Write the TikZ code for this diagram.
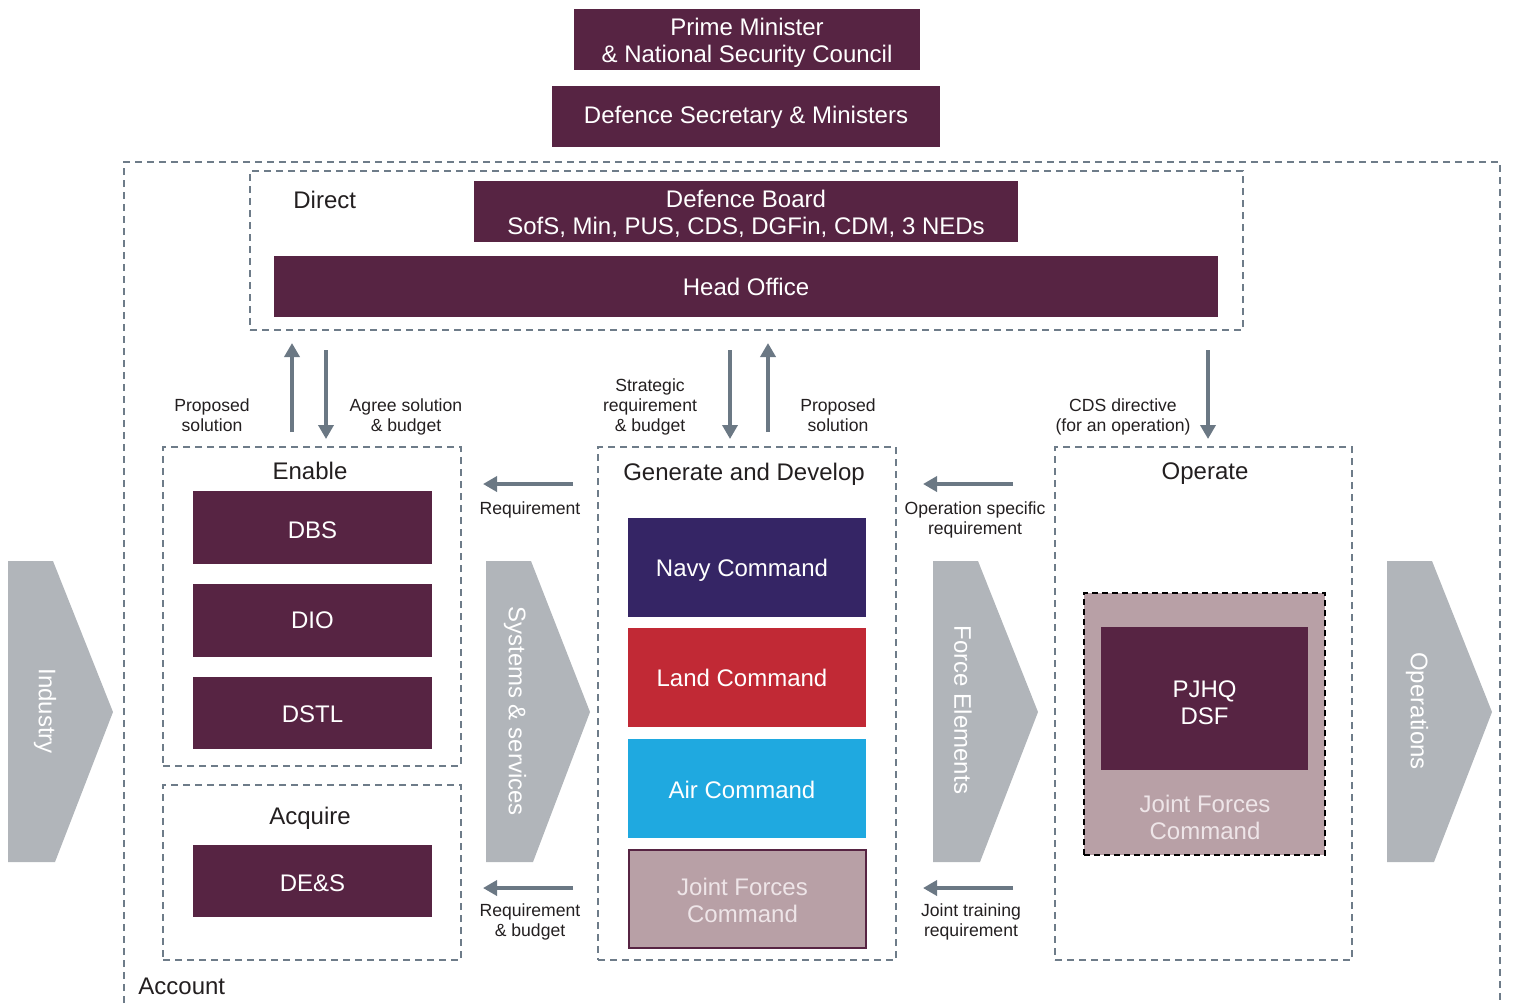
\documentclass[tikz,border=0pt]{standalone}
\usepackage{fontspec}
\setmainfont{Liberation Sans}
\usetikzlibrary{arrows.meta}
\definecolor{maroon}{HTML}{572443}
\definecolor{navycol}{HTML}{352565}
\definecolor{landcol}{HTML}{C12935}
\definecolor{aircol}{HTML}{1FA9E0}
\definecolor{mauve}{HTML}{B8A0A6}
\definecolor{chevgray}{HTML}{B1B5BA}
\definecolor{arrowcol}{HTML}{6B7884}
\definecolor{dashcol}{HTML}{6E7C89}
\definecolor{textcol}{HTML}{231F20}
\definecolor{jfctext}{HTML}{EEE5E8}
% area box: name, x1, y1, x2, y2, style
\newcommand\abox[6]{\node[#6, minimum width={(#4-#2)*0.5pt}, minimum height={(#5-#3)*0.5pt}] (#1) at ({(#2+#4)/2},{(#3+#5)/2}) {};}
% box with text: name, x1, y1, x2, y2, box style, text style, text, downward shift (px)
\newcommand\tbox[9]{\abox{#1}{#2}{#3}{#4}{#5}{#6}%
  \node[#7] (#1t) at ({(#2+#4)/2},{(#3+#5)/2+#9}) {#8};}
\begin{document}
\begin{tikzpicture}[x=0.5pt,y=-0.5pt,
  big/.style={font=\fontsize{12}{13.5}\selectfont},
  mbox/.style={fill=maroon, inner sep=0pt},
  wtxt/.style={big, text=white, align=center, inner sep=0pt},
  jtxt/.style={big, text=jfctext, align=center, inner sep=0pt},
  dbox/.style={draw=dashcol, line width=0.75pt, dash pattern=on 3.5pt off 2.5pt, inner sep=0pt},
  lbl/.style={font=\fontsize{8.8}{10}\selectfont, align=center, text=textcol, inner sep=0pt},
  ttl/.style={big, text=textcol, inner sep=0pt},
  flow/.style={draw=arrowcol, line width=2pt, -{Triangle[width=7.5pt,length=7pt]}},
  chev/.style={fill=chevgray},
  chevtxt/.style={big, text=white, rotate=-90, inner sep=0pt}]
\useasboundingbox (0,0) rectangle (1513,1003);

% top boxes
\tbox{pm}{574}{9}{920}{70}{mbox}{wtxt}{Prime Minister\\\& National Security Council}{3}
\tbox{ds}{552}{86}{940}{147}{mbox}{wtxt}{Defence Secretary \& Ministers}{1}

% account outer frame
\draw[dbox] (124,1003) -- (124,162) -- (1500,162) -- (1500,1003);
\node[ttl, anchor=west] (account) at (138,986) {Account};

% direct
\abox{direct}{250}{171}{1243}{330}{dbox}
\node[ttl, anchor=west] (directlbl) at (293,200) {Direct};
\tbox{board}{474}{181}{1018}{242}{mbox}{wtxt}{Defence Board\\SofS, Min, PUS, CDS, DGFin, CDM, 3 NEDs}{2}
\tbox{ho}{274}{256}{1218}{317}{mbox}{wtxt}{Head Office}{0}

% enable
\abox{enable}{163}{447}{461}{766}{dbox}
\node[ttl] (enablelbl) at (310,471) {Enable};
\tbox{dbs}{193}{491}{432}{564}{mbox}{wtxt}{DBS}{3}
\tbox{dio}{193}{584}{432}{657}{mbox}{wtxt}{DIO}{0}
\tbox{dstl}{193}{677}{432}{749}{mbox}{wtxt}{DSTL}{1}

% acquire
\abox{acquire}{163}{785}{461}{960}{dbox}
\node[ttl] (acquirelbl) at (310,818) {Acquire};
\tbox{des}{193}{845}{432}{917}{mbox}{wtxt}{DE\&S}{2}

% generate and develop
\abox{gen}{598}{447}{896}{960}{dbox}
\node[ttl] (genlbl) at (744,474) {Generate and Develop};
\tbox{navy}{628}{518}{866}{617}{mbox, fill=navycol}{wtxt, xshift=-2.5pt}{Navy Command}{3}
\tbox{land}{628}{628}{866}{727}{mbox, fill=landcol}{wtxt, xshift=-2.5pt}{Land Command}{0}
\tbox{air}{628}{739}{866}{838}{mbox, fill=aircol}{wtxt, xshift=-2.5pt}{Air Command}{1}
\tbox{jfc}{629}{850}{866}{948}{mbox, fill=mauve, draw=maroon, line width=1pt}{jtxt, xshift=-2.5pt}{Joint Forces\\Command}{1}

% operate
\abox{operate}{1055}{447}{1352}{960}{dbox}
\node[ttl] (operatelbl) at (1205,474) {Operate};
\abox{jfcop}{1084}{593}{1325}{855}{fill=mauve, draw=black, line width=1pt, dash pattern=on 3pt off 2pt, inner sep=0pt}
\tbox{pjhq}{1101}{627}{1308}{770}{mbox}{wtxt}{PJHQ\\DSF}{4}
\node[jtxt] (jfcoplbl) at (1205,817) {Joint Forces\\Command};

% chevrons
\fill[chev] (8,561) -- (53,561) -- (113,712) -- (55,862) -- (8,862) -- cycle;
\node[chevtxt] (industry) at (45,711) {Industry};
\fill[chev] (486,561) -- (531,561) -- (590,712) -- (533,862) -- (486,862) -- cycle;
\node[chevtxt] (systems) at (515,711) {Systems \& services};
\fill[chev] (933,561) -- (978,561) -- (1038,712) -- (980,862) -- (933,862) -- cycle;
\node[chevtxt] (force) at (963,710) {Force Elements};
\fill[chev] (1387,561) -- (1432,561) -- (1492,712) -- (1434,862) -- (1387,862) -- cycle;
\node[chevtxt] (operations) at (1417,711) {Operations};

% vertical flows
\coordinate (e1s) at (292,432); \coordinate (e1e) at (292,343);
\draw[flow] (e1s) -- (e1e);
\coordinate (e2s) at (326,350); \coordinate (e2e) at (326,439);
\draw[flow] (e2s) -- (e2e);
\node[lbl] (propsol1) at (212,415) {Proposed\\solution};
\node[lbl] (agree) at (406,417) {Agree solution\\\& budget};

\coordinate (g1s) at (730,350); \coordinate (g1e) at (730,439);
\draw[flow] (g1s) -- (g1e);
\coordinate (g2s) at (768,432); \coordinate (g2e) at (768,343);
\draw[flow] (g2s) -- (g2e);
\node[lbl] (strat) at (650,407) {Strategic\\requirement\\\& budget};
\node[lbl] (propsol2) at (838,415) {Proposed\\solution};

\coordinate (c1s) at (1208,350); \coordinate (c1e) at (1208,439);
\draw[flow] (c1s) -- (c1e);
\node[lbl] (cds) at (1123,417) {CDS directive\\(for an operation)};

% horizontal flows
\coordinate (r1s) at (573,484); \coordinate (r1e) at (483,484);
\draw[flow] (r1s) -- (r1e);
\node[lbl] (req) at (530,510) {Requirement};
\coordinate (r2s) at (573,888); \coordinate (r2e) at (483,888);
\draw[flow] (r2s) -- (r2e);
\node[lbl] (reqb) at (530,922) {Requirement\\\& budget};
\coordinate (o1s) at (1013,484); \coordinate (o1e) at (923,484);
\draw[flow] (o1s) -- (o1e);
\node[lbl] (opspec) at (975,520) {Operation specific\\requirement};
\coordinate (o2s) at (1013,888); \coordinate (o2e) at (923,888);
\draw[flow] (o2s) -- (o2e);
\node[lbl] (jtr) at (971,922) {Joint training\\requirement};
\end{tikzpicture}
\end{document}
